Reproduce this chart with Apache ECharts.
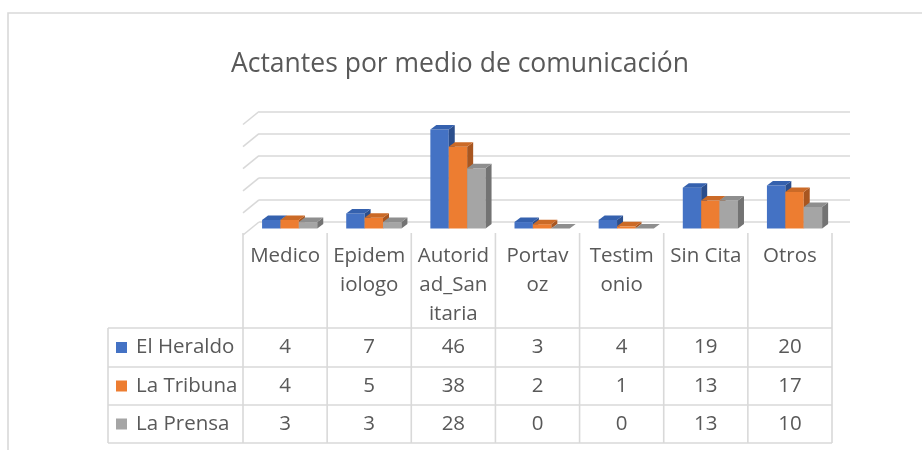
<!DOCTYPE html>
<html><head><meta charset="utf-8">
<script src="https://cdn.jsdelivr.net/npm/echarts@6/dist/echarts.min.js"></script>
<style>html,body{margin:0;padding:0;background:#fff}#c{width:922px;height:450px}</style>
</head><body><div id="c"></div>
<script>
// ---- data ----
const chartTitle = 'Actantes por medio de comunicación';
const categories = ['Medico', 'Epidemiologo', 'Autoridad_Sanitaria', 'Portavoz', 'Testimonio', 'Sin Cita', 'Otros'];
const headerLines = [['Medico'], ['Epidem', 'iologo'], ['Autorid', 'ad_San', 'itaria'], ['Portav', 'oz'], ['Testim', 'onio'], ['Sin Cita'], ['Otros']];
const seriesNames = ['El Heraldo', 'La Tribuna', 'La Prensa'];
const elHeraldo = [4, 7, 46, 3, 4, 19, 20];
const laTribuna = [4, 5, 38, 2, 1, 13, 17];
const laPrensa = [3, 3, 28, 0, 0, 13, 10];
const yTicks = [0, 10, 20, 30, 40, 50];

// ---- styles ----
const seriesValues = [elHeraldo, laTribuna, laPrensa];
const frontColors = ['#4472C4', '#ED7D31', '#A5A5A5'];
const topColors = ['#3561AE', '#CB6A27', '#8E8E8E'];
const sideColors = ['#2B4E8C', '#A85620', '#737373'];
const FONT = 'Open Sans';
const TXT = '#595959';
const LINE = '#d9d9d9';
const BW = 18.4, DX = 6, DY = 4.5;

const chart = echarts.init(document.getElementById('c'), null, {renderer: 'canvas'});

const barSeries = seriesNames.map((name, si) => ({
  type: 'custom', name, xAxisIndex: 0, yAxisIndex: 0, z: 10 + si,
  data: seriesValues[si].map((v, k) => [k, v]),
  renderItem(params, api) {
    const top = api.coord([api.value(0), api.value(1)]);
    const base = api.coord([api.value(0), 0]);
    const x0 = top[0] - 23 + si * BW;
    const y1 = top[1], y0 = base[1];
    return {
      type: 'group', children: [
        {type: 'rect', shape: {x: x0, y: y1, width: BW, height: y0 - y1}, style: {fill: frontColors[si]}},
        {type: 'polygon', shape: {points: [[x0 + BW, y1], [x0 + BW + DX, y1 - DY], [x0 + BW + DX, y0 - DY], [x0 + BW, y0]]}, style: {fill: sideColors[si]}},
        {type: 'polygon', shape: {points: [[x0, y1], [x0 + BW, y1], [x0 + BW + DX, y1 - DY], [x0 + DX, y1 - DY]]}, style: {fill: topColors[si]}}
      ]
    };
  }
}));

const wallDiag = {
  type: 'custom', xAxisIndex: 1, yAxisIndex: 1, z: 1, silent: true,
  data: yTicks.map(v => [0, v]),
  renderItem(params, api) {
    const p = api.coord([0, api.value(1)]);
    const x = params.coordSys.x;
    return {type: 'line', shape: {x1: x - 16, y1: p[1] + 13, x2: x, y2: p[1]}, style: {stroke: LINE, lineWidth: 1.6}};
  }
};

chart.setOption({
  animation: false,
  backgroundColor: '#fff',
  grid: [
    {left: 243, right: 90, top: 121, bottom: 221.5},
    {left: 259, right: 72, top: 111.5, bottom: 228}
  ],
  xAxis: [
    {type: 'category', gridIndex: 0, data: categories, show: false},
    {type: 'value', gridIndex: 1, min: 0, max: 1, show: false}
  ],
  yAxis: [
    {type: 'value', gridIndex: 0, min: 0, max: 50, interval: 10, show: false},
    {type: 'value', gridIndex: 1, min: 0, max: 50, interval: 10,
     axisLine: {show: false}, axisTick: {show: false}, axisLabel: {show: false},
     splitLine: {show: true, lineStyle: {color: LINE, width: 1.6}}}
  ],
  series: [wallDiag, ...barSeries]
});

// ---- table below the plot (column positions taken from the category axis) ----
const centers = categories.map((c, k) => chart.convertToPixel({xAxisIndex: 0}, k));
const band = centers.length > 1 ? centers[1] - centers[0] : 84;
const bounds = centers.map(c => c - band / 2).concat([centers[centers.length - 1] + band / 2]);
const tableLeft = 108, headTop = 233, headBottom = 328, rowH = 38;
const rowLines = [headBottom, headBottom + rowH * 1 + 1, headBottom + rowH * 2 + 1, headBottom + rowH * 3 + 1];
const right = bounds[bounds.length - 1];
const F = `20.5px "${FONT}"`;
const g = [];
g.push({type: 'rect', shape: {x: 8, y: 13, width: 940, height: 460}, style: {fill: 'none', stroke: LINE, lineWidth: 1.6}, z: 0});
rowLines.forEach(y => g.push({type: 'line', shape: {x1: tableLeft, y1: y, x2: right, y2: y}, style: {stroke: LINE, lineWidth: 1.6}}));
g.push({type: 'line', shape: {x1: tableLeft, y1: headBottom, x2: tableLeft, y2: rowLines[3]}, style: {stroke: LINE, lineWidth: 1.6}});
bounds.forEach(x => g.push({type: 'line', shape: {x1: x, y1: headTop, x2: x, y2: rowLines[3]}, style: {stroke: LINE, lineWidth: 1.6}}));
headerLines.forEach((lines, k) => lines.forEach((t, j) => g.push({
  type: 'text', style: {text: t, x: centers[k], y: 256.5 + j * 29, textAlign: 'center', textVerticalAlign: 'middle', fill: TXT, font: F}
})));
seriesNames.forEach((n, si) => {
  const cy = (rowLines[si] + rowLines[si + 1]) / 2;
  g.push({type: 'rect', shape: {x: 116, y: cy - 5.5, width: 11, height: 11}, style: {fill: frontColors[si]}});
  g.push({type: 'text', style: {text: n, x: 136, y: cy, textAlign: 'left', textVerticalAlign: 'middle', fill: TXT, font: F}});
  seriesValues[si].forEach((v, k) => g.push({
    type: 'text', style: {text: String(v), x: centers[k], y: cy, textAlign: 'center', textVerticalAlign: 'middle', fill: TXT, font: F}
  }));
});
g.push({type: 'text', style: {text: chartTitle, x: 460, y: 64, textAlign: 'center', textVerticalAlign: 'middle', fill: TXT, font: `26.5px "${FONT}"`}});
chart.setOption({graphic: {elements: g}});
</script></body></html>
